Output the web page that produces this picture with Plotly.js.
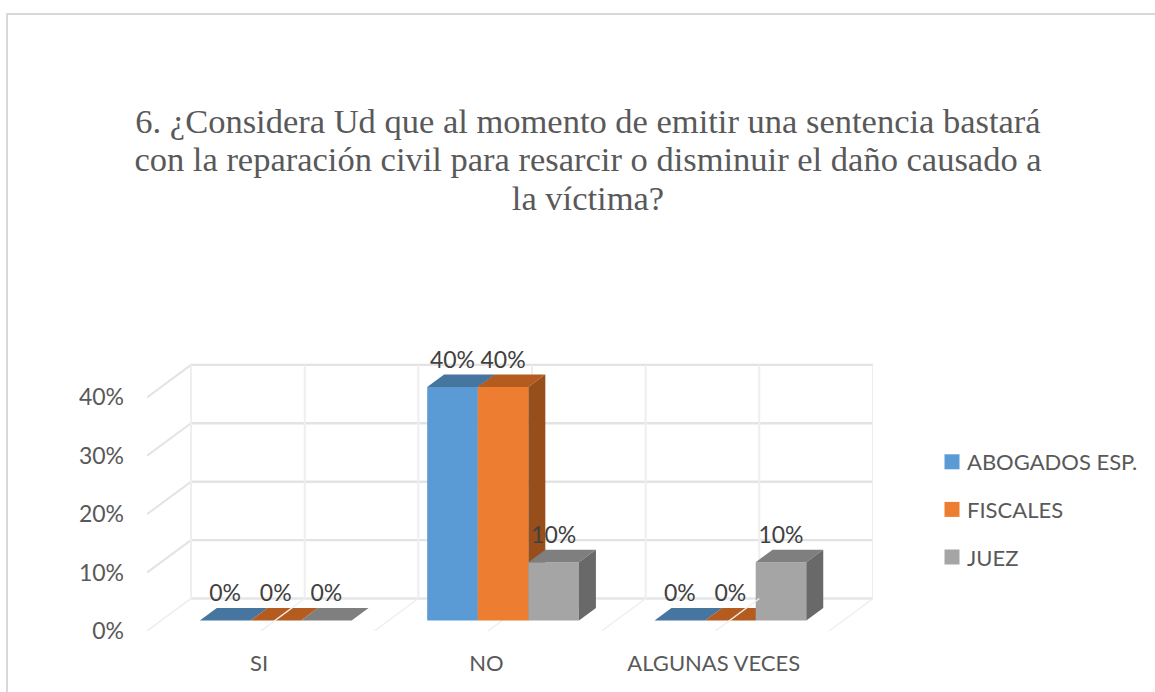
<!DOCTYPE html>
<html><head><meta charset="utf-8">
<script src="https://cdn.plot.ly/plotly-3.0.1.min.js"></script>
<style>
html,body{margin:0;padding:0;background:#fff;overflow:hidden}
#chart{width:1155px;height:692px}
#frame{position:absolute;left:6px;top:13px;right:-4px;bottom:-4px;border:2px solid #d9d9d9;pointer-events:none}
</style></head><body>
<div id="chart"></div><div id="frame"></div>
<script>
const categories = ['SI', 'NO', 'ALGUNAS VECES'];
const abogados = [0, 0.4, 0];
const fiscales = [0, 0.4, 0];
const juez = [0, 0.1, 0.1];
const seriesNames = ['ABOGADOS ESP.', 'FISCALES', 'JUEZ'];
const yTicks = [0, 0.1, 0.2, 0.3, 0.4];
const frontColors = ['#5B9BD5', '#ED7D31', '#A5A5A5'];
const topColors = ['#46759F', '#B45C20', '#7F7F7F'];
const sideColors = ['#44709A', '#974E1B', '#696969'];
const allSeries = [abogados, fiscales, juez];

// plot box in pixels and oblique projection
const L = 147, R = 873, T = 350, B = 631;
const catPx = 227.33, tenPx = 58.4;
const depthX = 44 / catPx, depthY = 32.5 / (tenPx * 10);   // full floor depth in axis units
const barW = 50.6 / catPx, d0 = 0.32, d1 = 0.705, labelLift = 0.043, barNudge = 1 / catPx;
const px = (c, d) => c + d * depthX;
const py = (v, d) => v + d * depthY;
const xMin = -0.5, xMax = xMin + (R - L) / catPx, yMax = (B - T) / (tenPx * 10);

const traces = [];
function line(xs, ys, color, width, z) {
  traces.push({type: 'scatter', mode: 'lines', x: xs, y: ys, showlegend: false, hoverinfo: 'skip',
    cliponaxis: false, line: {color, width}, zorder: z});
}
// back wall + left wall
yTicks.forEach(v => {
  line([px(xMin, 1), px(xMax - depthX, 1)], [py(v, 1), py(v, 1)], v === 0 ? '#e6e6e6' : '#e3e3e3', 2.4, 0);
  line([px(xMin, 0), px(xMin, 1)], [py(v, 0), py(v, 1)], v === 0 ? '#eeeeee' : '#e3e3e3', v === 0 ? 1.6 : 2, 0);
});
// vertical wall lines and floor lines
for (let k = 0; k <= 6; k++) {
  const c = xMin + k * 0.5;
  line([px(c, 1), px(c, 1)], [py(0, 1), py(0.4, 1)], '#eeeeee', 2, 0);
  if (k > 0) line([px(c, 0), px(c, 1)], [py(0, 0), py(0, 1)], '#efefef', 1.5, (c === 0 || c === 2) ? 9 : 0);
}
// bars
allSeries.forEach((vals, s) => {
  const z = s + 1;
  const cx = categories.map((_, i) => px(i + (s - 1) * barW + barNudge, d0));
  traces.push({type: 'bar', name: seriesNames[s], x: cx, y: vals, base: vals.map(() => py(0, d0)),
    width: barW, marker: {color: frontColors[s], line: {width: 0}}, showlegend: false, zorder: z,
    hovertemplate: '%{y:.0%}<extra>' + seriesNames[s] + '</extra>'});
  vals.forEach((v, i) => {
    const a = i + (s - 1.5) * barW + barNudge, b = a + barW;
    traces.push({type: 'scatter', mode: 'lines', fill: 'toself', fillcolor: topColors[s], line: {width: 0},
      x: [px(a, d0), px(b, d0), px(b, d1), px(a, d1), px(a, d0)],
      y: [py(v, d0), py(v, d0), py(v, d1), py(v, d1), py(v, d0)],
      showlegend: false, hoverinfo: 'skip', zorder: z});
    if (v > 0) traces.push({type: 'scatter', mode: 'lines', fill: 'toself', fillcolor: sideColors[s], line: {width: 0},
      x: [px(b, d0), px(b, d0), px(b, d1), px(b, d1), px(b, d0)],
      y: [py(0, d0), py(v, d0), py(v, d1), py(0, d1), py(0, d0)],
      showlegend: false, hoverinfo: 'skip', zorder: z});
  });
  traces.push({type: 'scatter', mode: 'text', x: cx, y: vals.map(v => py(v, d0) + labelLift),
    text: vals.map(v => Math.round(v * 100) + '%'), textposition: 'middle center', cliponaxis: false,
    textfont: {family: 'Lato, sans-serif', size: 23, color: '#404040'}, showlegend: false, hoverinfo: 'skip', zorder: 10});
  // legend key
  traces.push({type: 'scatter', mode: 'markers', name: seriesNames[s], x: [null], y: [null], legendgroup: 'g' + s,
    marker: {symbol: 'square', size: 15, color: frontColors[s]}, zorder: 0});
});

const layout = {
  width: 1155, height: 692, autosize: false,
  paper_bgcolor: '#fff', plot_bgcolor: 'rgba(0,0,0,0)',
  margin: {l: L, r: 1155 - R, t: T, b: 692 - B, pad: 0},
  title: {text: '6. ¿Considera Ud que al momento de emitir una sentencia bastará<br>con la reparación civil para resarcir o disminuir el daño causado a<br>la víctima?',
    x: 588 / 1155, xanchor: 'center', xref: 'container', y: 1 - 133 / 692, yanchor: 'top', yref: 'container',
    font: {family: '"Liberation Serif", serif', size: 34.5, color: '#595959'}},
  xaxis: {type: 'linear', range: [xMin, xMax], tickmode: 'array', tickvals: categories.map((_, i) => i - 0.007), ticktext: categories,
    showgrid: false, zeroline: false, showline: false, ticks: '', ticklabelstandoff: 17,
    tickfont: {family: 'Lato, sans-serif', size: 22, color: '#595959'}},
  yaxis: {range: [0, yMax], tickmode: 'array', tickvals: yTicks, tickformat: '.0%',
    showgrid: false, zeroline: false, showline: false, ticks: '', ticklabelstandoff: 22,
    tickfont: {family: 'Lato, sans-serif', size: 23, color: '#595959'}},
  barmode: 'overlay',
  showlegend: true,
  legend: {xref: 'container', yref: 'container', x: 932 / 1155, xanchor: 'left', y: 1 - 441 / 692, yanchor: 'top',
    traceorder: 'grouped', tracegroupgap: 16, bgcolor: 'rgba(0,0,0,0)',
    font: {family: 'Lato, sans-serif', size: 22, color: '#595959'}}
};
const gd = document.getElementById('chart');
function tighten() {
  // the reference sets its title lines closer than the library default, and its legend text closer to the key
  gd.querySelectorAll('.gtitle tspan.line').forEach((t, i) => { t.setAttribute('dy', (i * 1.115) + 'em'); });
  gd.querySelectorAll('.legendtext').forEach(t => {
    if (!t.dataset.moved) { t.setAttribute('x', parseFloat(t.getAttribute('x')) - 5); t.dataset.moved = '1'; }
  });
}
Plotly.newPlot(gd, traces, layout, {displayModeBar: false}).then(() => { tighten(); gd.on('plotly_afterplot', tighten); });
</script>
</body></html>
